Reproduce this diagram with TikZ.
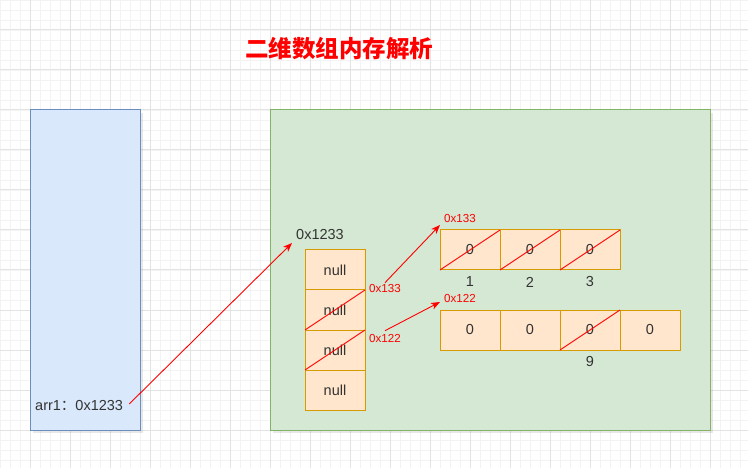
\documentclass[tikz,border=0pt]{standalone}
\usepackage{fontspec}
\setmainfont{Liberation Sans}
\newfontfamily\cjk{Noto Sans CJK SC}
\usetikzlibrary{arrows.meta,shadows}
\definecolor{txt}{HTML}{333333}
\definecolor{bluefill}{HTML}{DAE8FC}
\definecolor{bluestroke}{HTML}{6C8EBF}
\definecolor{greenfill}{HTML}{D5E8D4}
\definecolor{greenstroke}{HTML}{82B366}
\definecolor{cellfill}{HTML}{FFE6CC}
\definecolor{cellstroke}{HTML}{D79B00}
\definecolor{redline}{HTML}{FF0000}
\definecolor{gridminor}{HTML}{F3F3F3}
\definecolor{gridmajor}{HTML}{E3E3E3}
\tikzset{
  minorgrid/.style={draw=gridminor, line width=0.8pt},
  majorgrid/.style={draw=gridmajor, line width=1pt},
  panel/.style={line width=1pt, drop shadow={shadow xshift=3pt, shadow yshift=-3pt, opacity=0.18}},
  cell/.style={draw=cellstroke, fill=cellfill, line width=1pt, minimum width=60pt, minimum height=40pt,
    inner sep=0pt, outer sep=0pt, text=txt, font=\fontsize{14.5}{16}\selectfont},
  lab/.style={inner sep=0pt, text=txt, font=\fontsize{14.5}{16}\selectfont},
  redlab/.style={inner sep=0pt, text=redline, font=\fontsize{11.6}{13}\selectfont},
  strike/.style={draw=redline, line width=0.9pt},
  ptr/.style={draw=redline, line width=0.9pt, -{Stealth[length=9pt, width=7pt, inset=2.5pt]}},
}
\begin{document}
\begin{tikzpicture}[x=1pt, y=-1pt]
\useasboundingbox (0,0) rectangle (748,468);
\fill[white] (0,0) rectangle (748,468);
% grid
\foreach \x in {0,10,...,740} \draw[minorgrid] (\x,0) -- (\x,468);
\foreach \y in {0,10,...,460} \draw[minorgrid] (0,\y) -- (748,\y);
\foreach \x in {30,70,...,730} \draw[majorgrid] (\x,0) -- (\x,468);
\foreach \y in {30,70,...,450} \draw[majorgrid] (0,\y) -- (748,\y);

% title
\node (title) [text=redline, inner sep=0pt, font=\cjk\bfseries\fontsize{23.5}{26}\selectfont] at (339,49) {二维数组内存解析};

% panels
\node (stack) [panel, draw=bluestroke, fill=bluefill, minimum width=110pt, minimum height=320pt, inner sep=0pt, outer sep=0pt] at (85,270) {};
\node (heap) [panel, draw=greenstroke, fill=greenfill, minimum width=440pt, minimum height=320pt, inner sep=0pt, outer sep=0pt] at (490,270) {};

% stack variable
\node (arr) [lab, anchor=west] at (35,406) {arr1{\cjk ：}0x1233};

% outer array
\node (addr) [lab, anchor=west] at (296,235) {0x1233};
\node (n1) [cell] at (335,270) {null};
\node (n2) [cell] at (335,310) {null};
\node (n3) [cell] at (335,350) {null};
\node (n4) [cell] at (335,390) {null};
\draw[strike] (n2.south west) -- (n2.north east);
\draw[strike] (n3.south west) -- (n3.north east);

% first inner array
\node (a1) [cell] at (470,250) {0};
\node (a2) [cell] at (530,250) {0};
\node (a3) [cell] at (590,250) {0};
\foreach \c in {a1,a2,a3} \draw[strike] (\c.south west) -- (\c.north east);
\node (l1) [lab] at (470,282) {1};
\node (l2) [lab] at (530,282) {2};
\node (l3) [lab] at (590,282) {3};

% second inner array
\node (b1) [cell] at (470,330) {0};
\node (b2) [cell] at (530,330) {0};
\node (b3) [cell] at (590,330) {0};
\node (b4) [cell] at (650,330) {0};
\draw[strike] (b3.south west) -- (b3.north east);
\node (l9) [lab] at (590,362) {9};

% red address labels
\node (m1) [redlab, anchor=west] at (369,289) {0x133};
\node (m2) [redlab, anchor=west] at (369,339) {0x122};
\node (t1) [redlab, anchor=west] at (444,219) {0x133};
\node (t2) [redlab, anchor=west] at (444,299) {0x122};

% pointers
\draw[ptr] ([xshift=6pt, yshift=2pt]arr.east) -- ([xshift=-4pt, yshift=-8pt]addr.west);
\draw[ptr] ([yshift=2pt]m1.north) -- ([yshift=5pt]a1.north west);
\draw[ptr] ([yshift=4pt]m2.north) -- ([yshift=8pt]b1.north west);
\end{tikzpicture}
\end{document}
